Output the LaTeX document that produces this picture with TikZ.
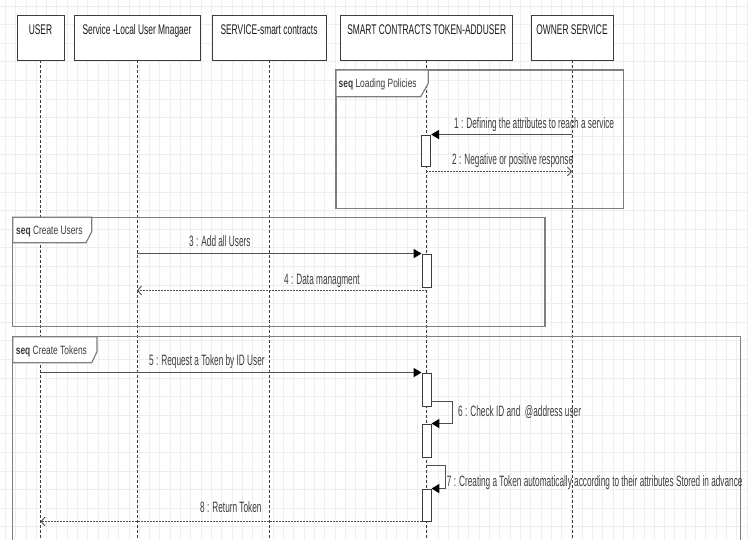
\documentclass[tikz,border=0pt]{standalone}
\usepackage{fontspec}
\setmainfont{Liberation Sans}[FakeStretch=0.6]
\newfontfamily\headfont{Liberation Sans}[FakeStretch=0.6]
\newfontfamily\msgfont{Liberation Sans}[FakeStretch=0.55]
\newfontfamily\seqfont{Liberation Sans}[FakeStretch=0.7]
\usetikzlibrary{positioning,arrows.meta}
\definecolor{gridgray}{HTML}{EEEEEE}
\definecolor{inkgray}{HTML}{3C3C3C}
\definecolor{linegray}{HTML}{505050}
\definecolor{framegray}{HTML}{7F7F7F}
\tikzset{
  gridline/.style={draw=gridgray, line width=0.8pt},
  headbox/.style={draw=inkgray, fill=white, line width=0.9pt, minimum height=45pt,
    text height=15pt, text depth=22pt, inner ysep=4pt, inner xsep=0pt,
    text=black!90, font=\headfont\fontsize{14}{16}\selectfont},
  lifeline/.style={draw=inkgray, line width=0.8pt, dash pattern=on 3pt off 2pt},
  actbox/.style={draw=inkgray, fill=white, line width=0.9pt, minimum width=9pt, inner sep=0pt},
  syncmsg/.style={draw=linegray, line width=1.7pt, -{Triangle[length=8pt,width=9pt,color=black]}},
  retmsg/.style={draw=linegray, line width=1.3pt, dash pattern=on 1.5pt off 1.5pt,
    -{Straight Barb[length=4pt,width=9pt,line width=0.9pt]}},
  msglabel/.style={anchor=base west, inner sep=0pt, text=inkgray, font=\msgfont\fontsize{15}{17}\selectfont},
  seqframe/.style={draw=framegray, line width=1.5pt},
  seqtab/.style={draw=framegray, line width=1.2pt, fill=white},
  seqlabel/.style={anchor=base west, inner sep=0pt, text=inkgray, font=\seqfont\fontsize{12}{14}\selectfont},
}

\begin{document}
\begin{tikzpicture}[x=1pt,y=-1pt]
\clip (0,0) rectangle (748,539);
\fill[white] (0,0) rectangle (748,539);
\foreach \gx in {0,...,72}
  \draw[gridline] ({5.3+10.3*\gx},0) -- ++(0,539);
\foreach \gy in {0,...,28}
  \draw[gridline] (0,{6+18.6*\gy}) -- ++(748,0);

\coordinate (bottom) at (0,545);

\node[headbox, minimum width=47pt] (user) at (40.5,37.5) {USER};
\node[headbox, minimum width=126pt] (local) at (137,37.5) {Service -Local User Mnagaer};
\node[headbox, minimum width=114pt] (smart) at (269,37.5) {SERVICE-smart contracts};
\node[headbox, minimum width=172pt] (token) at (426.7,37.5) {SMART CONTRACTS TOKEN-ADDUSER};
\node[headbox, minimum width=82pt] (owner) at (572,37.5) {OWNER SERVICE};

\draw[lifeline] (user.south) -- (user.south |- bottom);
\draw[lifeline] (local.south) -- (local.south |- bottom);
\draw[lifeline] (smart.south) -- (smart.south |- bottom);
\draw[lifeline] (token.south) -- (token.south |- bottom);
\draw[lifeline] (owner.south) -- (owner.south |- bottom);

\draw[seqframe] (336,70) rectangle (623.3,208.5);
\draw[seqtab] (336,96.7) -- (420.7,96.7) -- (428.3,83.3) -- (428.3,70) -- (336,70) -- cycle;
\node[seqlabel] (seqload) at (338.5,87) {\textbf{seq} Loading Policies};

\draw[seqframe] (12.7,217.3) rectangle (545,326.7);
\draw[seqtab] (12.7,242.7) -- (86,242.7) -- (91.7,231.7) -- (91.7,217.3) -- (12.7,217.3) -- cycle;
\node[seqlabel] (sequsers) at (16,234.3) {\textbf{seq} Create Users};

\draw[seqframe] (12.7,545) -- (12.7,336.7) -- (740.7,336.7) -- (740.7,545);
\draw[seqtab] (12.7,362.7) -- (91.7,362.7) -- (97,351.7) -- (97,336.7) -- (12.7,336.7) -- cycle;
\node[seqlabel] (seqtokens) at (15.7,354) {\textbf{seq} Create Tokens};

\node[actbox, minimum height=31pt] (act1) at (426.2,150.5) {};
\node[actbox, minimum height=33pt] (act2) at (426.5,270.5) {};
\node[actbox, minimum height=33pt] (act3) at (426.5,389.5) {};
\node[actbox, minimum height=33pt] (act4) at (426.5,440.5) {};
\node[actbox, minimum height=32pt] (act5) at (426.5,505) {};

\draw[syncmsg] (owner.south |- act1.north) -- (act1.north east);
\node[msglabel] (msg1) at (454,128.3) {1 : Defining the attributes to reach a service};
\draw[retmsg] ([yshift=-5pt]act1.south) -- ([yshift=-5pt]owner.south |- act1.south);
\node[msglabel] (msg2) at (452,164) {2 : Negative or positive response};

\draw[syncmsg] (local.south |- act2.north) -- (act2.north west);
\node[msglabel] (msg3) at (189,246) {3 : Add all Users};
\draw[retmsg] ([yshift=-3pt]act2.south) -- ([yshift=-3pt]local.south |- act2.south);
\node[msglabel] (msg4) at (284,284) {4 : Data managment};

\draw[syncmsg] (user.south |- act3.north) -- (act3.north west);
\node[msglabel] (msg5) at (149,365.7) {5 : Request a Token by ID User};
\draw[syncmsg] ([yshift=5pt]act3.south east) -- ++(21,0) |- (act4.north east);
\node[msglabel] (msg6) at (458,416) {6 : Check ID and\ \ @address user};
\draw[syncmsg] ([yshift=-8pt]act4.south) -- ++(19,0) |- (act5.north east);
\node[msglabel] (msg7) at (446.7,486.7) {7 : Creating a Token automatically according to their attributes Stored in advance};
\draw[retmsg] (act5.south west) -- (user.south |- act5.south);
\node[msglabel] (msg8) at (200,512.7) {8 : Return Token};
\end{tikzpicture}
\end{document}
